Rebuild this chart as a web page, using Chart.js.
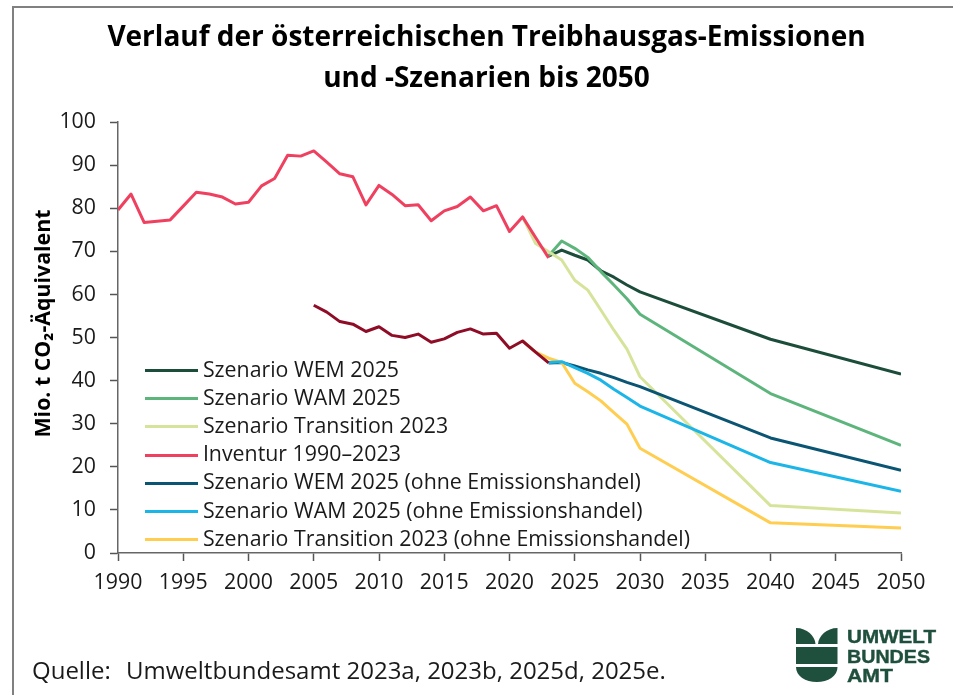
<!DOCTYPE html>
<html lang="de">
<head>
<meta charset="utf-8">
<title>Treibhausgas-Emissionen</title>
<script src="https://cdn.jsdelivr.net/npm/chart.js@4"></script>
<style>
html,body{margin:0;padding:0;background:#fff;overflow:hidden}
#wrap{position:relative;width:953px;height:695px}
canvas{position:absolute;left:0;top:0}
.fr{position:absolute;background:#808080}
.src{position:absolute;top:653px;font:24px/34px "Open Sans",sans-serif;color:#1a1a1a;white-space:nowrap}
svg{position:absolute;left:780px;top:610px}
</style>
</head>
<body>
<div id="wrap">
<canvas id="c" width="953" height="695"></canvas>
<div class="fr" style="left:12px;top:6px;width:941px;height:2px"></div>
<div class="fr" style="left:12px;top:6px;width:2px;height:689px"></div>
<div class="src" style="left:32px">Quelle:</div>
<div class="src" style="left:126px">Umweltbundesamt 2023a, 2023b, 2025d, 2025e.</div>
<svg width="173" height="85" viewBox="0 0 173 85" role="img" aria-label="Umweltbundesamt Logo">
  <path fill="#1f4f3d" d="M16 18C27 18 35 26 35.5 34H16Z"/>
  <path fill="#1f4f3d" d="M57.5 18C46.5 18 38.5 26 38 34H57.5Z"/>
  <rect x="16" y="37" width="41.5" height="17" fill="#1f4f3d"/>
  <path fill="#1f4f3d" d="M16 57H57.5C57.5 66 48 72 36.75 72C25.5 72 16 66 16 57Z"/>
  <g fill="#1f4f3d" stroke="#1f4f3d" stroke-width="0.4" font-family="Liberation Sans" font-weight="700" font-size="19">
    <text x="67" y="33" textLength="89" lengthAdjust="spacingAndGlyphs">UMWELT</text>
    <text x="67" y="52.5" textLength="83" lengthAdjust="spacingAndGlyphs">BUNDES</text>
    <text x="67" y="71.5" textLength="46" lengthAdjust="spacingAndGlyphs">AMT</text>
  </g>
</svg>
</div>
<script>
const inventoryYears = [1990,1991,1992,1993,1994,1995,1996,1997,1998,1999,2000,2001,2002,2003,2004,2005,2006,2007,2008,2009,2010,2011,2012,2013,2014,2015,2016,2017,2018,2019,2020,2021,2022,2023];
const inventoryValues = [79.6,83.3,76.7,77.0,77.3,80.5,83.7,83.3,82.6,81.0,81.4,85.2,86.9,92.3,92.1,93.3,90.7,88.0,87.3,80.8,85.3,83.2,80.6,80.8,77.1,79.4,80.4,82.6,79.4,80.6,74.6,78.0,73.2,68.5];
const inventoryNoEtsYears = [2005,2006,2007,2008,2009,2010,2011,2012,2013,2014,2015,2016,2017,2018,2019,2020,2021,2022,2023];
const inventoryNoEtsValues = [57.5,55.9,53.7,53.1,51.4,52.5,50.5,50.0,50.8,48.9,49.7,51.2,52.0,50.8,51.0,47.5,49.2,46.6,44.1];
const scenarioYears = [2023,2024,2025,2026,2027,2028,2029,2030,2040,2050];
const wemValues = [68.9,70.3,69.1,68.0,65.5,64.0,62.2,60.6,49.6,41.5];
const wamValues = [69.0,72.4,70.7,68.6,65.3,62.2,59.0,55.4,37.0,25.0];
const wemNoEtsValues = [44.1,44.2,43.4,42.5,41.7,40.7,39.6,38.6,26.7,19.2];
const wamNoEtsValues = [44.2,44.4,43.0,41.7,40.1,38.0,36.1,34.1,21.0,14.3];
const transitionYears = [2021,2022,2023,2024,2025,2026,2027,2028,2029,2030,2040,2050];
const transitionValues = [78.0,71.8,69.9,68.0,63.3,61.0,56.4,51.7,47.3,40.9,11.0,9.3];
const transitionNoEtsValues = [49.2,46.6,45.2,44.2,39.4,37.4,35.3,32.6,29.9,24.3,7.0,5.8];
const titleLines = ["Verlauf der österreichischen Treibhausgas-Emissionen","und -Szenarien bis 2050"];

const pts = (xs, ys) => xs.map((x,i) => ({x, y: ys[i]}));
const legendKey = color => {
  const k = document.createElement('canvas');
  k.width = 53; k.height = 3;
  const g = k.getContext('2d');
  g.fillStyle = color; g.fillRect(0, 0, 53, 3);
  return k;
};
const line = (label, color, xs, ys, paintRank) => ({
  label, data: pts(xs, ys), borderColor: color, backgroundColor: color, pointStyle: legendKey(color),
  borderWidth: 3, pointRadius: 0, tension: 0, borderJoinStyle: 'round', order: 10 - paintRank
});
const hiddenLabel = "Inventur (ohne Emissionshandel)";
const font = "'Open Sans', sans-serif";
const ink = '#1a1a1a';
const labelSize = 21.33;

const placement = {
  id: 'placement',
  afterLayout(chart) {
    const lg = chart.legend, pad = lg.options.labels.padding;
    lg.left = 150.75 - pad; lg.right = lg.left + 600;
    lg.top = 359.8 - pad; lg.bottom = lg.top + 215;
    const t = chart.titleBlock;
    t.left = 20; t.right = 953;
    const s = chart.scales.y;
    if (!s._wrapped) {
      const orig = s.drawTitle;
      s.drawTitle = function (a) {
        const tp = this.top, bt = this.bottom;
        this.top = tp - 14; this.bottom = bt - 14;
        orig.call(this, a);
        this.top = tp; this.bottom = bt;
      };
      s._wrapped = true;
    }
  }
};

new Chart(document.getElementById('c'), {
  type: 'line',
  data: { datasets: [
    line("Szenario WEM 2025", '#1c4d3a', scenarioYears, wemValues, 0),
    line("Szenario WAM 2025", '#5db57c', scenarioYears, wamValues, 1),
    line("Szenario Transition 2023", '#d6e49b', transitionYears, transitionValues, 2),
    line("Inventur 1990–2023", '#ef4060', inventoryYears, inventoryValues, 3),
    line("Szenario WEM 2025 (ohne Emissionshandel)", '#0b5574', scenarioYears, wemNoEtsValues, 4),
    line("Szenario WAM 2025 (ohne Emissionshandel)", '#1bb5e8', scenarioYears, wamNoEtsValues, 5),
    line("Szenario Transition 2023 (ohne Emissionshandel)", '#ffcd50', transitionYears, transitionNoEtsValues, 4.5),
    line(hiddenLabel, '#8f0c27', inventoryNoEtsYears, inventoryNoEtsValues, 6)
  ]},
  plugins: [placement],
  options: {
    responsive: false, animation: false,
    layout: { padding: { left: 28, right: 52, top: 0, bottom: 82 } },
    plugins: {
      tooltip: { enabled: false },
      title: {
        display: true, text: titleLines, color: '#000',
        font: { family: font, weight: '700', size: 28, lineHeight: 1.43 },
        padding: { top: 18.5, bottom: 23.5 }
      },
      legend: {
        display: true, position: 'chartArea', align: 'start',
        labels: {
          color: ink, font: { family: font, size: labelSize },
          usePointStyle: true, pointStyleWidth: 41.5, padding: 6.87,
          sort: (a, b) => a.datasetIndex - b.datasetIndex,
          filter: it => it.text !== hiddenLabel
        }
      }
    },
    scales: {
      x: {
        type: 'linear', min: 1990, max: 2050,
        afterFit: s => { s.height = 60; },
        border: { color: '#666', width: 1.5 },
        grid: { drawOnChartArea: false, drawTicks: true, tickLength: 8, tickColor: '#555', tickWidth: 1.5 },
        ticks: { stepSize: 5, autoSkip: false, maxRotation: 0, color: ink, padding: 9, font: { family: font, size: labelSize }, callback: v => String(v) }
      },
      y: {
        min: 0, max: 100,
        afterFit: s => { s.width = 90; },
        border: { color: '#666', width: 1.5 },
        grid: { drawOnChartArea: false, drawTicks: true, tickLength: 8, tickColor: '#555', tickWidth: 1.5 },
        ticks: { stepSize: 10, color: ink, padding: 14, font: { family: font, size: labelSize } },
        title: { display: true, text: "Mio. t CO₂-Äquivalent", color: '#000', padding: { top: 3, bottom: 0 }, font: { family: font, weight: '700', size: labelSize } }
      }
    }
  }
});
</script>
</body>
</html>
